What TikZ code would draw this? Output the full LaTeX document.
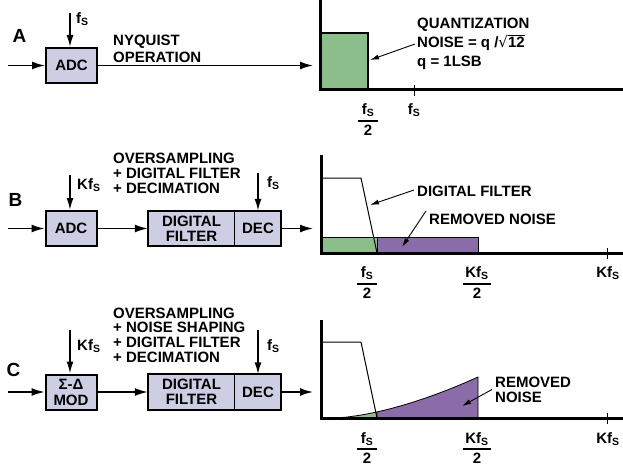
\documentclass[tikz,border=0pt]{standalone}
\usepackage{fontspec}
\setmainfont{Liberation Sans}
\newfontfamily\symfont{DejaVu Sans}
\usetikzlibrary{arrows.meta}
\definecolor{blockfill}{RGB}{205,205,228}
\definecolor{noisegreen}{RGB}{140,190,140}
\definecolor{noisepurple}{RGB}{138,108,168}
\newcommand{\fsub}{f\textsubscript{S}}
\newcommand{\rootof}[1]{{\symfont\mdseries √}\rlap{\rule[11.8pt]{16.7pt}{0.9pt}}#1}
\begin{document}
\begin{tikzpicture}[x=1pt,y=-1pt,
  every node/.style={font=\bfseries\fontsize{15}{14.7}\selectfont, inner sep=0pt},
  block/.style={fill=blockfill, draw=black, line width=2pt, minimum width=51pt, minimum height=35pt, align=center},
  half/.style={fill=blockfill, minimum height=35pt, align=center},
  sig/.style={line width=1.6pt, -{Latex[length=13pt,width=8pt]}},
  clk/.style={line width=1.6pt, -{Latex[length=12pt,width=7pt]}},
  note/.style={line width=0.9pt, -{Latex[length=9pt,width=5pt]}},
  axis/.style={line width=3pt},
  tag/.style={font=\bfseries\fontsize{19}{19}\selectfont}]
\useasboundingbox (0,0) rectangle (623,468);

% A: nyquist
\node[tag] (tagA) at (19.5,35.5) {A};
\node[block] (adcA) at (71.5,65.5) {ADC};
\coordinate (inA) at (8,65.5);
\coordinate (outA) at (313,65.5);
\coordinate (clkA) at (70,13);
\draw[sig] (inA) -- (adcA);
\draw[sig] (adcA) -- (outA);
\draw[clk] (clkA) -- (clkA |- adcA.north);
\node[anchor=west] (rateA) at (76,19) {\fsub};
\node[anchor=west, align=left, font=\bfseries\fontsize{15}{16.5}\selectfont] (opA) at (113,49) {NYQUIST\\OPERATION};

\filldraw[fill=noisegreen, line width=1.6pt] (320,33) rectangle (368,90);
\draw[axis] (320,0) -- (320,90) -- (623,90);
\draw[line width=1pt] (414,85) -- (414,96);
\node (numA) at (368,110) {\fsub};
\draw[line width=1.3pt] (358,121) -- (378,121);
\node (twoA) at (368,130) {2};
\node (fsA) at (414,110) {\fsub};
\node[anchor=west, align=left, font=\bfseries\fontsize{15}{19}\selectfont] (qnote) at (417,44)
  {QUANTIZATION\\NOISE = q /\rootof{12}\\q = 1LSB};
\coordinate (qtip) at (370,60);
\draw[note] ([xshift=-2pt]qnote.west) -- (qtip);

% B: oversampling
\node[tag] (tagB) at (15.5,200) {B};
\node[block] (adcB) at (71,228.5) {ADC};
\node[half, minimum width=87pt] (filtB) at (191.5,228.5) {DIGITAL\\FILTER};
\node[half, minimum width=46pt] (decB) at (258,228.5) {DEC};
\draw[line width=2pt] (filtB.north west) rectangle (decB.south east);
\draw[line width=1pt] (decB.north west) -- (decB.south west);
\coordinate (inB) at (8,228.5);
\coordinate (outB) at (313,228.5);
\coordinate (clkB) at (70,175);
\coordinate (decclkB) at (258,173);
\draw[sig] (inB) -- (adcB);
\draw[sig] (adcB) -- (filtB);
\draw[sig] (decB) -- (outB);
\draw[clk] (clkB) -- (clkB |- adcB.north);
\draw[clk] (decclkB) -- (decclkB |- decB.north);
\node[anchor=west] (rateB) at (77,185) {K\fsub};
\node[anchor=west] (decrateB) at (267,183) {\fsub};
\node[anchor=west, align=left] (opB) at (113,173.5) {OVERSAMPLING\\+ DIGITAL FILTER\\+ DECIMATION};

\filldraw[fill=noisegreen, line width=0.8pt] (321,237) rectangle (377,253);
\filldraw[fill=noisepurple, line width=0.8pt] (377,237) rectangle (478,253);
\draw[line width=1pt] (321,178) -- (361,178) -- (377,253);
\draw[axis] (321,155) -- (321,253) -- (623,253);
\draw[line width=1pt] (607,248) -- (607,259);
\node (numB) at (367,273) {\fsub};
\draw[line width=1.3pt] (357,284) -- (377,284);
\node (twoB) at (367,293) {2};
\node (knumB) at (477,273) {K\fsub};
\draw[line width=1.3pt] (463,284) -- (491,284);
\node (ktwoB) at (477,293) {2};
\node (kfsB) at (608,273) {K\fsub};
\node[anchor=west] (filtnoteB) at (417,191) {DIGITAL FILTER};
\node[anchor=west] (remnoteB) at (429,219) {REMOVED NOISE};
\coordinate (filttipB) at (370,205);
\coordinate (remtipB) at (402,247);
\draw[note] ([xshift=-3pt,yshift=1pt]filtnoteB.west) -- (filttipB);
\draw[note] ([xshift=-3pt,yshift=8pt]remnoteB.west) -- (remtipB);

% C: sigma-delta
\node[tag] (tagC) at (13.5,370) {C};
\node[block, font=\bfseries\fontsize{15}{16}\selectfont] (modC) at (71,392) {Σ-Δ\\MOD};
\node[half, minimum width=87pt] (filtC) at (191.5,392) {DIGITAL\\FILTER};
\node[half, minimum width=46pt] (decC) at (258,392) {DEC};
\draw[line width=2pt] (filtC.north west) rectangle (decC.south east);
\draw[line width=1pt] (decC.north west) -- (decC.south west);
\coordinate (inC) at (8,392);
\coordinate (outC) at (313,392);
\coordinate (clkC) at (70,330);
\coordinate (decclkC) at (258,330);
\draw[sig] (inC) -- (modC);
\draw[sig] (modC) -- (filtC);
\draw[sig] (decC) -- (outC);
\draw[clk] (clkC) -- (clkC |- modC.north);
\draw[clk] (decclkC) -- (decclkC |- decC.north);
\node[anchor=west] (rateC) at (77,346) {K\fsub};
\node[anchor=west] (decrateC) at (267,346) {\fsub};
\node[anchor=west, align=left] (opC) at (113,335) {OVERSAMPLING\\+ NOISE SHAPING\\+ DIGITAL FILTER\\+ DECIMATION};

\fill[noisegreen] plot[domain=333:377, samples=20] (\x, {418-41*((\x-333)/145)^1.6}) -- (377,418) -- cycle;
\filldraw[fill=noisepurple, line width=0.8pt] (377,418) -- plot[domain=377:478, samples=30] (\x, {418-41*((\x-333)/145)^1.6}) -- (478,418) -- cycle;
\draw[line width=0.8pt] plot[domain=333:377, samples=20] (\x, {418-41*((\x-333)/145)^1.6});
\draw[line width=1pt] (321,342) -- (361,342) -- (377,418);
\draw[axis] (321,320) -- (321,418) -- (623,418);
\draw[line width=1pt] (607,413) -- (607,424);
\node (numC) at (367,439) {\fsub};
\draw[line width=1.3pt] (357,449) -- (377,449);
\node (twoC) at (367,458) {2};
\node (knumC) at (477,439) {K\fsub};
\draw[line width=1.3pt] (463,449) -- (491,449);
\node (ktwoC) at (477,458) {2};
\node (kfsC) at (608,439) {K\fsub};
\node[anchor=west, align=left] (remnoteC) at (495,389.5) {REMOVED\\NOISE};
\coordinate (remtipC) at (462,406);
\draw[note] ([xshift=-3pt]remnoteC.west) -- (remtipC);
\end{tikzpicture}
\end{document}
